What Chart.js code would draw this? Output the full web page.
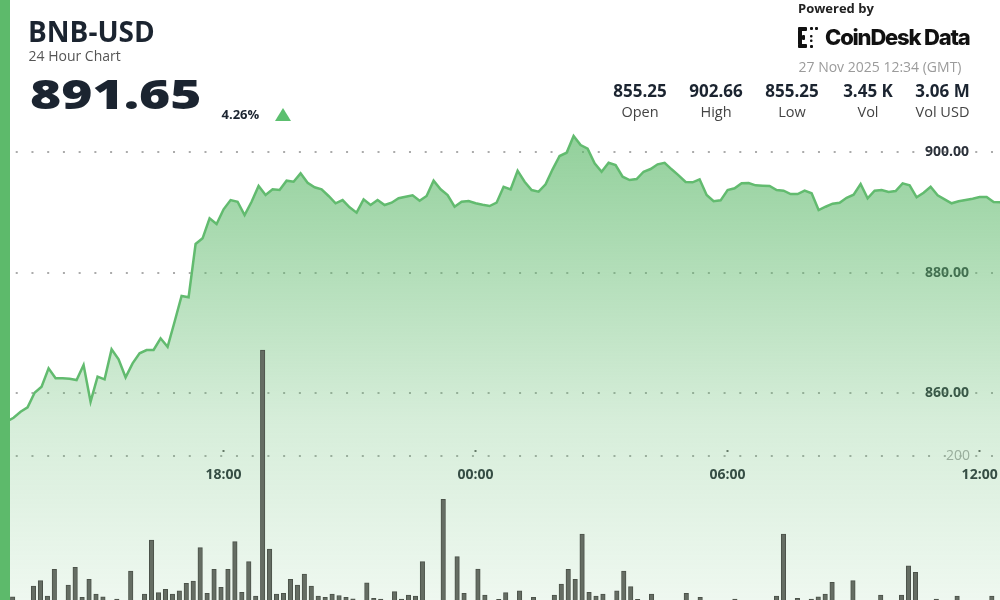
<!DOCTYPE html>
<html lang="en">
<head>
  <meta charset="UTF-8" />
  <title>BNB-USD 24 Hour Chart</title>
  <script src="https://cdn.jsdelivr.net/npm/chart.js"></script>
  <style>
    body { margin: 0; width: 1000px; height: 600px; overflow: hidden; background: #fff; font-family: 'Open Sans', sans-serif; color: #1b2430; }
    .wrap { position: relative; width: 1000px; height: 600px; }
    #chartBox { position: absolute; left: 0; top: 0; width: 1000px; height: 600px; }
    .stripe { position: absolute; left: 0; top: 0; width: 10px; height: 600px; background: #5dba6b; z-index: 3; }
    .t { position: absolute; line-height: 1; white-space: nowrap; z-index: 2; }
    .title { left: 28px; top: 17px; font-size: 28px; font-weight: 700; }
    .sub { left: 28.5px; top: 49px; font-size: 14px; color: #555; }
    .price { left: 29.5px; top: 73px; font-size: 41px; font-weight: 800; transform: scaleX(1.3); transform-origin: 0 0; }
    .change { left: 221.5px; top: 108px; font-size: 13px; font-weight: 700; }
    .tri { position: absolute; left: 275px; top: 108px; width: 0; height: 0; border-left: 8.5px solid transparent; border-right: 8.5px solid transparent; border-bottom: 13px solid #5cbf6f; z-index: 2; }
    .powered { left: 798px; top: 1.5px; font-size: 13px; font-weight: 700; color: #222; }
    .logo { position: absolute; left: 798px; top: 27px; z-index: 2; }
    .brand { left: 825px; top: 26px; font-family: Inter, sans-serif; font-size: 22px; font-weight: 800; letter-spacing: -1.2px; color: #111; }
    .date { left: 798.5px; top: 59.5px; font-size: 14px; color: #9b9b9b; }
    .stat { position: absolute; width: 76px; text-align: center; z-index: 2; line-height: 1; }
    .stat b { display: block; font-size: 17px; font-weight: 700; }
    .stat span { display: block; margin-top: 6px; font-size: 14.5px; color: #444; }
  </style>
</head>
<body>
  <div class="wrap">
    <div id="chartBox"><canvas id="chart"></canvas></div>
    <div class="stripe"></div>

    <div class="t title">BNB-USD</div>
    <div class="t sub">24 Hour Chart</div>
    <div class="t price">891.65</div>
    <div class="t change">4.26%</div>
    <div class="tri"></div>

    <div class="t powered">Powered by</div>
    <svg class="logo" width="21" height="21" viewBox="0 0 21 21">
      <g fill="#111">
        <rect x="0" y="0" width="9" height="4" rx="1"/>
        <rect x="0" y="3" width="4" height="15" rx="1"/>
        <rect x="0" y="17" width="9" height="4" rx="1"/>
        <rect x="4" y="8" width="3" height="5" rx="1"/>
        <rect x="12" y="0" width="3" height="3" rx="1"/>
        <rect x="17" y="0" width="3" height="3" rx="1"/>
        <rect x="12" y="8" width="2.5" height="2.5" rx="1"/>
        <rect x="12" y="12.5" width="2.5" height="2.5" rx="1"/>
        <rect x="12" y="18" width="3" height="3" rx="1"/>
      </g>
    </svg>
    <div class="t brand">CoinDesk Data</div>
    <div class="t date">27 Nov 2025 12:34 (GMT)</div>

    <div class="stat" style="left:602px; top:82px;"><b>855.25</b><span>Open</span></div>
    <div class="stat" style="left:678px; top:82px;"><b>902.66</b><span>High</span></div>
    <div class="stat" style="left:754px; top:82px;"><b>855.25</b><span>Low</span></div>
    <div class="stat" style="left:830px; top:82px;"><b>3.45 K</b><span>Vol</span></div>
    <div class="stat" style="left:904.5px; top:82px;"><b>3.06 M</b><span>Vol USD</span></div>
  </div>

  <script>
    // time axis in minutes from 00:00 (negative = day before)
    const priceStart = -670;   // 12:50
    const priceStep = 10;
    const prices = [
      855.25, 855.90, 856.90, 857.63, 860.05, 861.05, 864.10, 862.44, 862.44, 862.37,
      862.16, 864.65, 858.56, 862.71, 862.27, 867.25, 865.59, 862.61, 864.93, 866.59,
      867.14, 867.14, 869.08, 867.68, 871.83, 876.10, 875.88, 884.73, 885.68, 889.00,
      888.05, 890.49, 892.03, 891.75, 889.54, 891.75, 894.36, 892.86, 893.81, 893.69,
      895.24, 895.07, 896.46, 894.90, 894.14, 893.81, 892.70, 891.49, 892.03, 890.82,
      889.93, 892.15, 891.20, 892.03, 891.20, 891.59, 892.32, 892.58, 892.81, 891.92,
      892.70, 895.24, 893.81, 892.86, 890.92, 891.75, 891.87, 891.49, 891.25, 891.04,
      891.59, 894.24, 893.81, 896.90, 895.07, 893.69, 893.41, 894.64, 897.13, 899.34,
      899.88, 902.66, 901.16, 900.55, 898.12, 896.73, 898.22, 897.84, 895.90, 895.35,
      895.52, 896.73, 897.18, 897.96, 898.22, 897.13, 896.13, 895.02, 894.97, 895.47,
      892.86, 891.82, 891.98, 893.69, 893.98, 894.80, 894.85, 894.47, 894.41, 894.36,
      893.69, 893.58, 893.03, 893.03, 893.58, 893.15, 890.37, 890.92, 891.42, 891.59,
      892.41, 892.91, 894.69, 892.32, 893.58, 893.69, 893.36, 893.53, 894.80, 894.47,
      892.48, 893.24, 894.24, 892.81, 892.15, 891.49, 891.82, 892.03, 892.25, 892.53,
      892.53, 891.70, 891.65
    ];

    // 10 minute volume bars, 12:40 the day before to 12:30
    const volumes = [
      8, 14.8, 6, 5, 28.9, 35.9, 15.8, 50.8, 7, 30.2,
      53.4, 14.1, 37.7, 18.4, 14.8, 6, 11.8, 5, 48.6, 4,
      18.4, 89.3, 20.1, 24.6, 18.4, 22.7, 32.4, 35.5, 79.2, 19.3,
      50.8, 27.2, 50.8, 87.1, 20.6, 60.8, 15.8, 338.8, 77.5, 18.4,
      19.3, 37.7, 30.2, 44.6, 28.9, 15.8, 14.1, 18.4, 16.4, 14.1,
      12.2, 8, 33.2, 12.7, 11.8, 7, 21.4, 11.8, 17.1, 15.8,
      60.8, 6, 8, 142.7, 7, 67.4, 19.3, 6, 51.2, 17.1,
      7, 11.4, 20.1, 5, 22.7, 8, 14.1, 6, 9, 17.1,
      31.5, 50.8, 37.7, 97.2, 20.6, 15.8, 18.4, 7, 22.7, 48.6,
      28.0, 11.4, 6, 18.4, 8, 5, 9, 6, 19.3, 7,
      14.1, 5, 8, 6, 9, 11.8, 7, 5, 8, 6,
      9, 15.8, 97.2, 7, 12.7, 9, 11.8, 14.8, 18.4, 33.7,
      8, 6, 35.9, 9, 5, 7, 17.1, 8, 6, 17.1,
      55.5, 46.9, 9, 7, 11.8, 6, 8, 15.8, 7, 9,
      5, 8, 15.8, 9
    ];

    const timeTicks = [-360, 0, 360, 720];
    const timeTickLabels = ['18:00', '00:00', '06:00', '12:00'];
    const priceTicks = [860, 880, 900];
    const volumeTicks = [200];

    const pricePoints = prices.map((p, i) => ({ x: priceStart + i * priceStep, y: p }));
    const volumeLabels = volumes.map((v, i) => {
      const m = (12 * 60 + 40 + i * 10) % 1440;
      return String(Math.floor(m / 60)).padStart(2, '0') + ':' + String(m % 60).padStart(2, '0');
    });

    Chart.defaults.font.family = "'Open Sans', sans-serif";

    const dotBorder = { display: false, dash: [2, 13.73] };
    const dotGrid = { color: '#ababab', lineWidth: 2, drawTicks: false };
    const flatAxis = s => { s.width = 0; s.paddingTop = 0; s.paddingBottom = 0; };

    new Chart(document.getElementById('chart'), {
      type: 'line',
      data: {
        labels: volumeLabels,
        datasets: [
          {
            type: 'line',
            data: pricePoints,
            xAxisID: 'x',
            yAxisID: 'y',
            borderColor: '#62bb6f',
            borderWidth: 2.5,
            pointRadius: 0,
            tension: 0,
            fill: 'start',
            backgroundColor: (c) => {
              const ch = c.chart;
              if (!ch.chartArea) return 'rgba(93,185,106,0.3)';
              const g = ch.ctx.createLinearGradient(0, 130, 0, 600);
              g.addColorStop(0, 'rgba(93,185,106,0.68)');
              g.addColorStop(0.62, 'rgba(93,185,106,0.25)');
              g.addColorStop(1, 'rgba(93,185,106,0.1)');
              return g;
            },
            order: 2
          },
          {
            type: 'bar',
            data: volumes,
            xAxisID: 'xv',
            yAxisID: 'yv',
            backgroundColor: '#656d63',
            borderColor: '#4b5249',
            borderWidth: 1,
            barThickness: 4.5,
            order: 1
          }
        ]
      },
      options: {
        responsive: true,
        maintainAspectRatio: false,
        animation: false,
        layout: { padding: 0 },
        plugins: { legend: { display: false }, tooltip: { enabled: false } },
        scales: {
          x: {
            type: 'linear',
            min: -679.4,
            max: 749.1,
            position: { y: 850.5 },
            border: { display: false },
            grid: { drawOnChartArea: false, tickLength: 2, tickWidth: 2, tickColor: '#666' },
            ticks: {
              padding: 14.3,
              color: '#2b313a',
              font: { size: 14, weight: 'bold' },
              maxRotation: 0,
              autoSkip: false,
              callback: v => timeTickLabels[timeTicks.indexOf(v)]
            },
            afterBuildTicks: s => { s.ticks = timeTicks.map(v => ({ value: v })); },
            afterFit: s => { s.paddingLeft = 0; s.paddingRight = 0; }
          },
          xv: { type: 'category', offset: true, display: false },
          y: {
            type: 'linear',
            position: 'left',
            min: 825.65,
            max: 925.23,
            grid: dotGrid,
            border: dotBorder,
            ticks: {
              mirror: true,
              padding: 925,
              color: '#2b313a',
              font: { size: 14, weight: 'bold' },
              callback: v => v.toFixed(2)
            },
            afterBuildTicks: s => { s.ticks = priceTicks.map(v => ({ value: v })); },
            afterFit: flatAxis
          },
          yv: {
            type: 'linear',
            position: 'left',
            min: 10.5,
            max: 798.4,
            grid: dotGrid,
            border: dotBorder,
            ticks: {
              mirror: true,
              padding: 946,
              color: '#aaaaaa',
              font: { size: 14 }
            },
            afterBuildTicks: s => { s.ticks = volumeTicks.map(v => ({ value: v })); },
            afterFit: flatAxis
          }
        }
      }
    });
  </script>
</body>
</html>
